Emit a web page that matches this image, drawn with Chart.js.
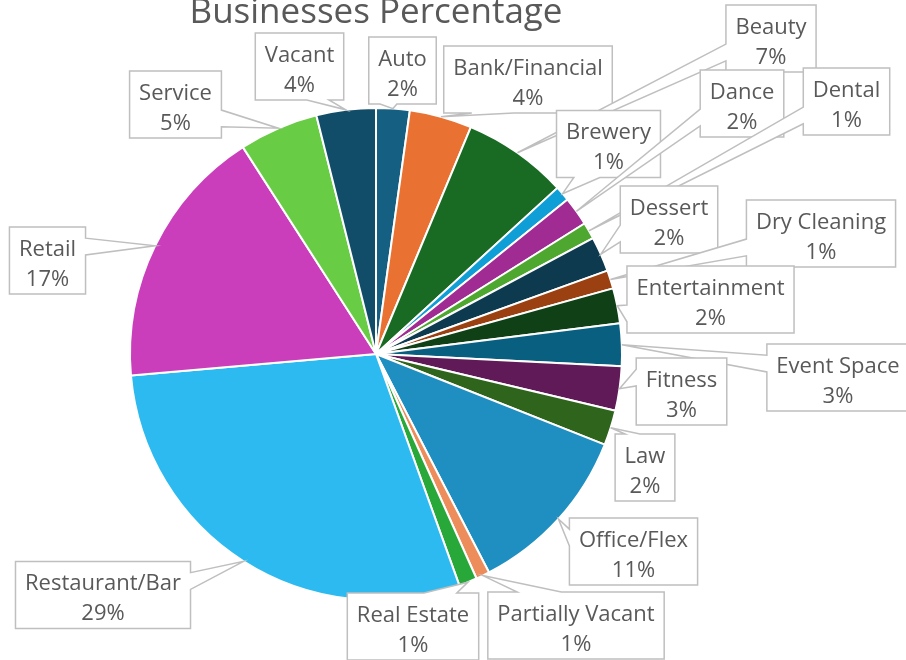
<!DOCTYPE html>
<html>
<head>
<meta charset="utf-8">
<script src="https://cdn.jsdelivr.net/npm/chart.js@4.4.1/dist/chart.umd.min.js"></script>
<style>
  html, body { margin: 0; padding: 0; background: #ffffff; }
  #wrap { width: 906px; height: 660px; overflow: hidden; }
</style>
</head>
<body>
<div id="wrap"><canvas id="chart" width="906" height="660"></canvas></div>
<script>
// data (share of businesses, in percent)
const categories = ['Auto', 'Bank/Financial', 'Beauty', 'Brewery', 'Dance', 'Dental', 'Dessert',
  'Dry Cleaning', 'Entertainment', 'Event Space', 'Fitness', 'Law', 'Office/Flex',
  'Partially Vacant', 'Real Estate', 'Restaurant/Bar', 'Retail', 'Service', 'Vacant'];
const shares = [2.2, 4.1, 6.9, 1.0, 1.9, 1.1, 2.3, 1.2, 2.3, 2.8, 2.9, 2.3, 11.4,
  0.9, 1.2, 29.1, 17.3, 5.2, 3.9];

const sliceColors = ['#156082', '#E97132', '#196B24', '#0F9ED5', '#A02B93', '#4EA72E',
  '#0D3A4E', '#9A4011', '#0F4016', '#095F80', '#601A58', '#2F641C',
  '#1F8EC0', '#ED8D5B', '#28A839', '#2DBAF0', '#CB3EBB', '#69CC45', '#114D68'];

// centre of each callout box on the canvas
const calloutCenters = [
  [402.5, 70.5], [528, 79.5], [771, 38.5], [608.5, 144], [742, 103.5], [846.5, 101.5],
  [669, 219.5], [821, 233.5], [710.5, 299.5], [838, 377.5], [681.5, 391.5], [645, 467.5],
  [633.5, 551.5], [576, 625.5], [413, 626.5], [103, 595], [47.5, 260.5], [175.5, 104.5],
  [299.5, 66.5]
];

const textColor = '#595959';
const lineColor = '#BFBFBF';

// rectangle with a wedge pointing at (tx, ty), like the office "wedgeRectCallout"
function calloutPath(ctx, x, y, w, h, tx, ty) {
  const hc = x + w / 2, vc = y + h / 2;
  const dxPos = tx - hc, dyPos = ty - vc;
  const inside = tx >= x && tx <= x + w && ty >= y && ty <= y + h;
  const side = Math.abs(dxPos * h) > Math.abs(dyPos * w);
  const x1 = x + w * (dxPos > 0 ? 7 : 2) / 12, x2 = x + w * (dxPos > 0 ? 10 : 5) / 12;
  const y1 = y + h * (dyPos > 0 ? 7 : 2) / 12, y2 = y + h * (dyPos > 0 ? 10 : 5) / 12;
  ctx.beginPath();
  ctx.moveTo(x, y);
  if (!inside && !side && dyPos < 0) { ctx.lineTo(x1, y); ctx.lineTo(tx, ty); ctx.lineTo(x2, y); }
  ctx.lineTo(x + w, y);
  if (!inside && side && dxPos > 0) { ctx.lineTo(x + w, y1); ctx.lineTo(tx, ty); ctx.lineTo(x + w, y2); }
  ctx.lineTo(x + w, y + h);
  if (!inside && !side && dyPos > 0) { ctx.lineTo(x2, y + h); ctx.lineTo(tx, ty); ctx.lineTo(x1, y + h); }
  ctx.lineTo(x, y + h);
  if (!inside && side && dxPos < 0) { ctx.lineTo(x, y2); ctx.lineTo(tx, ty); ctx.lineTo(x, y1); }
  ctx.closePath();
}

const calloutPlugin = {
  id: 'callouts',
  afterDraw(chart) {
    const ctx = chart.ctx;
    const arcs = chart.getDatasetMeta(0).data;
    const total = shares.reduce((a, b) => a + b, 0);
    ctx.save();

    // title, partly cut off by the top edge
    const centerX = arcs[0].x;
    ctx.font = '35px "Open Sans"';
    ctx.fillStyle = textColor;
    ctx.textAlign = 'center';
    ctx.textBaseline = 'alphabetic';
    ctx.fillText('Businesses Percentage', centerX, 23);

    ctx.font = '22px "Open Sans"';
    ctx.textBaseline = 'middle';
    arcs.forEach((arc, i) => {
      const p = arc.getProps(['x', 'y', 'startAngle', 'endAngle', 'outerRadius'], true);
      const mid = (p.startAngle + p.endAngle) / 2;
      const tx = p.x + Math.cos(mid) * p.outerRadius;
      const ty = p.y + Math.sin(mid) * p.outerRadius;
      const pct = Math.round(shares[i] / total * 100) + '%';
      const w = Math.max(ctx.measureText(categories[i]).width, ctx.measureText(pct).width) + 19;
      const h = 67;
      const [cx, cy] = calloutCenters[i];
      calloutPath(ctx, cx - w / 2, cy - h / 2, w, h, tx, ty);
      ctx.fillStyle = '#ffffff';
      ctx.fill();
      ctx.strokeStyle = lineColor;
      ctx.lineWidth = 1.5;
      ctx.stroke();
      ctx.fillStyle = textColor;
      ctx.fillText(categories[i], cx, cy - 11);
      ctx.fillText(pct, cx, cy + 19);
    });
    ctx.restore();
  }
};

const ctx = document.getElementById('chart').getContext('2d');
const chart = new Chart(ctx, {
  type: 'pie',
  data: {
    labels: categories,
    datasets: [{
      data: shares,
      backgroundColor: sliceColors,
      borderColor: '#ffffff',
      borderWidth: 2
    }]
  },
  options: {
    responsive: false,
    animation: false,
    rotation: 0,
    layout: { padding: { top: 107, bottom: 59, left: 0, right: 154 } },
    plugins: {
      legend: { display: false },
      tooltip: { enabled: false },
      title: { display: false }
    }
  },
  plugins: [calloutPlugin]
});
</script>
</body>
</html>
